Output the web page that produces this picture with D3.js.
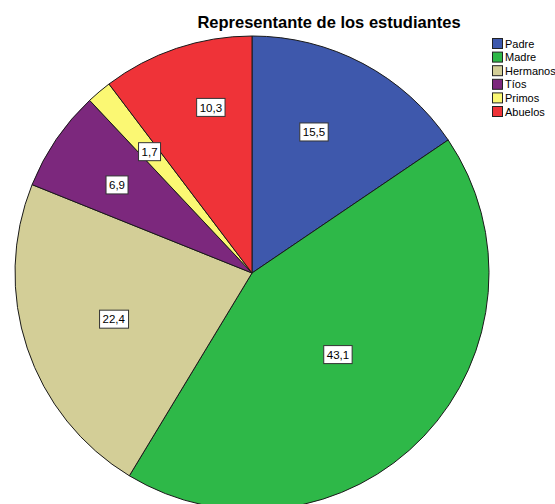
<!DOCTYPE html>
<html><head><meta charset="utf-8">
<script src="https://cdn.jsdelivr.net/npm/d3@7"></script>
<style>
html,body{margin:0;padding:0;background:#fff;overflow:hidden;}
svg{display:block;font-family:Arial,"Liberation Sans",sans-serif;}
</style></head>
<body>
<script>
const categories = ["Padre","Madre","Hermanos","Tíos","Primos","Abuelos"];
const values = [15.5,43.1,22.4,6.9,1.7,10.3];
const valueLabels = ["15,5","43,1","22,4","6,9","1,7","10,3"];
const colors = ["#3E58AC","#2EB848","#D3CE97","#7C287D","#FBF873","#EF3338"];
const title = "Representante de los estudiantes";

// label placement (radial fraction and angle nudge in degrees), SPSS-style layout
const labelRadius = [0.65,0.50,0.615,0.68,0.67,0.72];
const labelNudge = [-4.2,0,0,-1.2,0,4.6];

const W=555,H=504, cx=252, cy=273, R=237;
const svg=d3.select("body").append("svg").attr("width",W).attr("height",H);

const pie=d3.pie().sort(null).value(d=>d)(values);
const arc=d3.arc().innerRadius(0).outerRadius(R);
const g=svg.append("g").attr("transform",`translate(${cx},${cy})`);
g.selectAll("path").data(pie).join("path")
  .attr("d",arc).attr("fill",(d,i)=>colors[i])
  .attr("stroke","#1a1a1a").attr("stroke-width",1).attr("stroke-linejoin","round");

// labels
const lg=g.selectAll("g.lbl").data(pie).join("g").attr("class","lbl")
  .attr("transform",(d,i)=>{
    const a=(d.startAngle+d.endAngle)/2 + labelNudge[i]*Math.PI/180;
    const r=R*labelRadius[i];
    return `translate(${r*Math.sin(a)},${-r*Math.cos(a)})`;
  });
lg.each(function(d,i){
  const s=d3.select(this);
  const t=s.append("text").attr("text-anchor","middle").attr("dy","0.36em")
    .attr("font-size",11.5).attr("fill","#000").text(valueLabels[i]);
  const bb=t.node().getBBox();
  s.insert("rect","text").attr("x",bb.x-3).attr("y",-9).attr("width",bb.width+6).attr("height",18)
    .attr("fill","#fff").attr("stroke","#333").attr("stroke-width",1);
});

svg.append("text").attr("x",329).attr("y",28).attr("text-anchor","middle")
  .attr("font-size",16.5).attr("font-weight","bold").attr("fill","#000").text(title);

const leg=svg.append("g").attr("transform","translate(492,38)");
const li=leg.selectAll("g").data(categories).join("g").attr("transform",(d,i)=>`translate(0,${i*13.6})`);
li.append("rect").attr("x",0.5).attr("y",0.5).attr("width",10).attr("height",10)
  .attr("fill",(d,i)=>colors[i]).attr("stroke","#222").attr("stroke-width",1);
li.append("text").attr("x",13).attr("y",9.5).attr("font-size",11).attr("fill","#000").text(d=>d);
</script>
</body></html>
